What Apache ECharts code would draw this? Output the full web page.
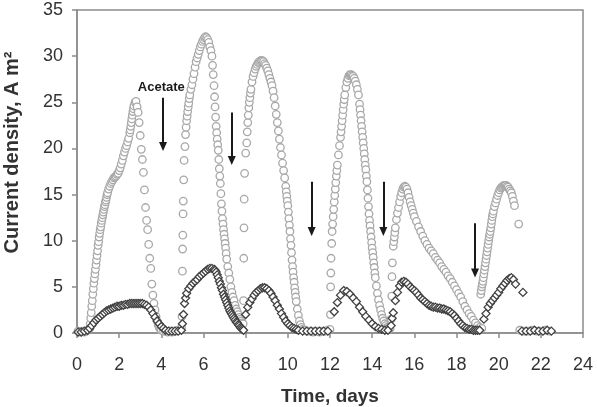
<!DOCTYPE html>
<html>
<head>
<meta charset="utf-8">
<script src="https://cdn.jsdelivr.net/npm/echarts@6/dist/echarts.min.js"></script>
<style>
html, body { margin: 0; padding: 0; background: #fff; }
#chart { width: 597px; height: 407px; }
</style>
</head>
<body>
<div id="chart"></div>
<script>
// light grey circles: [day, current density]
var lightSeries = [
	[0.05, 0.2], [0.15, 0.1], [0.25, 0.2], [0.35, 0.1], [0.45, 0.2], [0.55, 0.4],
	[0.60, 0.5], [0.625, 1.0], [0.65, 1.6], [0.675, 2.2], [0.70, 2.9], [0.725, 3.5], [0.75, 4.2], [0.775, 4.8],
	[0.80, 5.4], [0.825, 5.9], [0.85, 6.4], [0.875, 6.9], [0.90, 7.4], [0.925, 7.9], [0.95, 8.4], [0.975, 8.9],
	[1.00, 9.5], [1.025, 9.9], [1.05, 10.4], [1.075, 10.8], [1.10, 11.2], [1.125, 11.5], [1.15, 11.9], [1.175, 12.2],
	[1.20, 12.5], [1.225, 12.8], [1.25, 13.1], [1.275, 13.4], [1.30, 13.7], [1.325, 13.9], [1.35, 14.2], [1.375, 14.4],
	[1.40, 14.7], [1.425, 15.0], [1.45, 15.2], [1.50, 15.6], [1.55, 15.9], [1.60, 16.2], [1.65, 16.4], [1.70, 16.6], [1.75, 16.8],
	[1.80, 16.9], [1.85, 17.0], [1.90, 17.2], [1.95, 17.3], [2.00, 17.6], [2.05, 17.9], [2.10, 18.3], [2.15, 18.7],
	[2.20, 19.2], [2.25, 19.6], [2.30, 20.0], [2.35, 20.3], [2.40, 20.7], [2.45, 21.1], [2.50, 21.7], [2.525, 22.0],
	[2.55, 22.4], [2.575, 22.8], [2.60, 23.2], [2.625, 23.6], [2.65, 24.0], [2.675, 24.3], [2.70, 24.6], [2.75, 25.0],
	[2.80, 25.1], [2.85, 24.5], [2.90, 23.9], [2.95, 22.8],
	[3.00, 21.4], [3.05, 19.9], [3.10, 18.8], [3.15, 17.4], [3.20, 15.5], [3.25, 13.6], [3.30, 12.2], [3.35, 11.2],
	[3.40, 9.6], [3.45, 8.1], [3.50, 7.0], [3.55, 5.3], [3.60, 4.1], [3.65, 3.2], [3.70, 2.5], [3.75, 1.8],
	[3.80, 1.3], [3.85, 0.9], [3.90, 0.6], [3.95, 0.4], [4.00, 0.3], [4.10, 0.2], [4.20, 0.2], [4.30, 0.1],
	[4.40, 0.2], [4.50, 0.1], [4.60, 0.2], [4.70, 0.2], [4.80, 0.3], [4.90, 0.4], [4.96, 0.6], [4.98, 1.8],
	[5.00, 6.7], [5.01, 9.1], [5.02, 10.6], [5.03, 12.9], [5.04, 14.3], [5.06, 16.6], [5.08, 18.7], [5.12, 20.2],
	[5.15, 21.5], [5.175, 22.3], [5.20, 23.0], [5.225, 23.5], [5.25, 24.0], [5.275, 24.5], [5.30, 24.9], [5.325, 25.4],
	[5.35, 25.8], [5.40, 26.4], [5.45, 26.9], [5.50, 27.5],
	[5.55, 28.1], [5.60, 28.8], [5.65, 29.4], [5.70, 29.8], [5.75, 30.2], [5.80, 30.6], [5.85, 31.0], [5.90, 31.3],
	[5.95, 31.6], [6.00, 31.8], [6.05, 32.0], [6.10, 32.1], [6.15, 32.0], [6.20, 31.8], [6.25, 31.5], [6.30, 31.0],
	[6.35, 30.6], [6.40, 30.0], [6.43, 29.0], [6.46, 28.0], [6.50, 26.8], [6.525, 25.6], [6.55, 24.5], [6.575, 23.4],
	[6.60, 22.4], [6.625, 21.7], [6.65, 21.0], [6.675, 20.4], [6.70, 19.8], [6.725, 18.8], [6.75, 17.8], [6.775, 17.0],
	[6.80, 16.2], [6.825, 15.1], [6.85, 14.0], [6.875, 13.2], [6.90, 12.4], [6.925, 11.8], [6.95, 11.2], [6.975, 10.7],
	[7.00, 10.2], [7.025, 9.7], [7.05, 9.2], [7.075, 8.6],
	[7.10, 8.0], [7.15, 7.2], [7.20, 6.5], [7.25, 5.8], [7.30, 5.0], [7.35, 4.4], [7.40, 3.9], [7.45, 3.5],
	[7.50, 3.0], [7.55, 2.6], [7.60, 2.3], [7.65, 2.0], [7.70, 1.7], [7.75, 1.5], [7.80, 1.3], [7.85, 1.1],
	[7.88, 1.0], [7.90, 3.5], [7.91, 8.1], [7.92, 11.4], [7.93, 14.5], [7.95, 17.3], [8.00, 19.5], [8.05, 20.6],
	[8.075, 21.8], [8.10, 22.8], [8.125, 23.6], [8.15, 24.4], [8.175, 25.0], [8.20, 25.5], [8.225, 26.0], [8.25, 26.4],
	[8.30, 27.2], [8.35, 27.8], [8.40, 28.2], [8.45, 28.6],
	[8.50, 28.9], [8.55, 29.1], [8.60, 29.3], [8.65, 29.4], [8.70, 29.5], [8.75, 29.5], [8.80, 29.5], [8.85, 29.4],
	[8.90, 29.2], [8.95, 29.0], [9.00, 28.7], [9.05, 28.4], [9.10, 28.0], [9.15, 27.6], [9.20, 27.2], [9.25, 26.8],
	[9.30, 26.2], [9.35, 25.5], [9.40, 24.6], [9.45, 23.7], [9.50, 22.8], [9.55, 21.9], [9.60, 21.0], [9.65, 20.1],
	[9.70, 19.3], [9.75, 18.4], [9.80, 17.6], [9.85, 16.8], [9.90, 15.9], [9.925, 15.3], [9.95, 14.8], [9.975, 14.3],
	[10.00, 13.8], [10.025, 13.1], [10.05, 12.4], [10.075, 11.7], [10.10, 11.0], [10.125, 10.2], [10.15, 9.5], [10.175, 8.7],
	[10.20, 7.9], [10.225, 7.2], [10.25, 6.6], [10.275, 6.0], [10.30, 5.5], [10.325, 4.9], [10.35, 4.4], [10.375, 3.9],
	[10.40, 3.4], [10.45, 2.6],
	[10.50, 1.9], [10.55, 1.3], [10.60, 0.9], [10.65, 0.6], [10.70, 0.4], [10.80, 0.3], [10.90, 0.2], [11.00, 0.2],
	[11.10, 0.2], [11.20, 0.1], [11.30, 0.2], [11.40, 0.2], [11.50, 0.1], [11.60, 0.2], [11.70, 0.2], [11.80, 0.2],
	[11.90, 0.3], [12.00, 0.4], [12.02, 2.0], [12.03, 5.0], [12.04, 6.5], [12.05, 8.1], [12.08, 9.7], [12.10, 11.0],
	[12.125, 11.8], [12.15, 12.6], [12.175, 13.4], [12.20, 14.2], [12.225, 14.9], [12.25, 15.6], [12.275, 16.3], [12.30, 17.0],
	[12.325, 17.6], [12.35, 18.2], [12.40, 19.3], [12.45, 20.3], [12.50, 21.2], [12.525, 21.8],
	[12.55, 22.4], [12.575, 23.0], [12.60, 23.6], [12.625, 24.2], [12.65, 24.8], [12.675, 25.3], [12.70, 25.8], [12.75, 26.6],
	[12.80, 27.2], [12.85, 27.6], [12.90, 27.9],
	[12.95, 28.0], [13.00, 28.0], [13.05, 27.9], [13.10, 27.8], [13.15, 27.6], [13.20, 27.3], [13.25, 26.9], [13.30, 26.4],
	[13.35, 25.8], [13.40, 24.8], [13.425, 24.2], [13.45, 23.6], [13.475, 23.0], [13.50, 22.4], [13.525, 21.8], [13.55, 21.2],
	[13.575, 20.6], [13.60, 20.0], [13.625, 19.4], [13.65, 18.8], [13.675, 18.2], [13.70, 17.7], [13.725, 17.0],
	[13.75, 16.4], [13.775, 15.5], [13.80, 14.6], [13.825, 13.7], [13.85, 12.9], [13.875, 12.2], [13.90, 11.6], [13.925, 11.0],
	[13.95, 10.4], [13.975, 9.8], [14.00, 9.2], [14.025, 8.7], [14.05, 8.2], [14.075, 7.6], [14.10, 7.1], [14.125, 6.5],
	[14.15, 6.0], [14.20, 5.1], [14.25, 4.3], [14.30, 3.6], [14.35, 3.0], [14.40, 2.5], [14.45, 2.0], [14.50, 1.6],
	[14.55, 1.3], [14.60, 1.0], [14.65, 0.8], [14.70, 0.6], [14.75, 0.5], [14.80, 0.4], [14.85, 0.5], [14.90, 1.5],
	[14.93, 4.0], [14.94, 6.1], [14.96, 7.6], [15.00, 9.4], [15.025, 9.9], [15.05, 10.4], [15.075, 10.9], [15.10, 11.4],
	[15.15, 12.3], [15.20, 13.0],
	[15.25, 13.6], [15.30, 14.2], [15.35, 14.8], [15.40, 15.2], [15.45, 15.6], [15.50, 15.8], [15.55, 15.9], [15.60, 15.8],
	[15.65, 15.6], [15.70, 15.2], [15.75, 14.7], [15.80, 14.2], [15.85, 13.8], [15.90, 13.4], [15.95, 13.0], [16.00, 12.6],
	[16.10, 12.1], [16.20, 11.5], [16.30, 11.0], [16.40, 10.5], [16.50, 10.0], [16.60, 9.6], [16.70, 9.2], [16.80, 8.9],
	[16.90, 8.6], [17.00, 8.2], [17.10, 7.9], [17.20, 7.6], [17.30, 7.2], [17.40, 6.9], [17.50, 6.6], [17.60, 6.2],
	[17.70, 5.9], [17.80, 5.5], [17.90, 5.1], [18.00, 4.7], [18.10, 4.3], [18.20, 3.9], [18.30, 3.4], [18.40, 2.9],
	[18.50, 2.5], [18.60, 2.1], [18.70, 1.8], [18.80, 1.4], [18.90, 1.1], [19.00, 0.8], [19.10, 0.6], [19.20, 0.5],
	[19.15, 4.2], [19.175, 4.6], [19.20, 5.0], [19.225, 5.3], [19.25, 5.6], [19.275, 6.0], [19.30, 6.4], [19.325, 6.8],
	[19.35, 7.2], [19.375, 7.6], [19.40, 8.0], [19.425, 8.4], [19.45, 8.8], [19.475, 9.2], [19.50, 9.6], [19.525, 10.0],
	[19.55, 10.4], [19.575, 10.7], [19.60, 11.0], [19.625, 11.4], [19.65, 11.8], [19.675, 12.2], [19.70, 12.6], [19.725, 12.9],
	[19.75, 13.2], [19.80, 13.7], [19.85, 14.1], [19.90, 14.5],
	[19.95, 14.9], [20.00, 15.2], [20.05, 15.5], [20.10, 15.7], [20.15, 15.8], [20.20, 15.9], [20.25, 16.0], [20.30, 16.0],
	[20.35, 16.0], [20.40, 15.9], [20.45, 15.8], [20.50, 15.6], [20.55, 15.4], [20.60, 15.2], [20.65, 14.8], [20.70, 14.3],
	[20.75, 13.8], [20.95, 11.8],
	[21.00, 0.3], [21.20, 0.2], [21.40, 0.2], [21.60, 0.3], [21.80, 0.2], [22.00, 0.2], [22.20, 0.3], [22.40, 0.2]
];

// dark diamonds: [day, current density]
var darkSeries = [
	[0.05, 0.1], [0.20, 0.1], [0.35, 0.2], [0.50, 0.3],
	[0.60, 0.5], [0.70, 0.8], [0.80, 1.1], [0.90, 1.4], [1.00, 1.6], [1.10, 1.8], [1.20, 2.0], [1.30, 2.2],
	[1.40, 2.4], [1.50, 2.5], [1.60, 2.6], [1.70, 2.7], [1.80, 2.8], [1.90, 2.9], [2.00, 2.9], [2.10, 3.0],
	[2.20, 3.0], [2.30, 3.1], [2.40, 3.1], [2.50, 3.2], [2.60, 3.2], [2.70, 3.2], [2.80, 3.2], [2.90, 3.2],
	[3.00, 3.2], [3.10, 3.2], [3.20, 3.1], [3.30, 3.0], [3.40, 2.8], [3.50, 2.5], [3.60, 2.1], [3.70, 1.7],
	[3.80, 1.3], [3.90, 1.0], [4.00, 0.7], [4.10, 0.5], [4.20, 0.3], [4.35, 0.2], [4.50, 0.2], [4.65, 0.2],
	[4.80, 0.2], [4.95, 0.3],
	[5.00, 1.0], [5.05, 2.0], [5.10, 3.2], [5.15, 3.8], [5.20, 4.3], [5.30, 4.8], [5.40, 5.1], [5.50, 5.4],
	[5.60, 5.6], [5.70, 5.8], [5.80, 6.1], [5.90, 6.3], [6.00, 6.5], [6.10, 6.7], [6.20, 6.9], [6.30, 7.0],
	[6.40, 7.0], [6.50, 6.9], [6.55, 6.8], [6.60, 6.6], [6.65, 6.3], [6.70, 6.0], [6.75, 5.6], [6.80, 5.3],
	[6.85, 4.9], [6.90, 4.6], [6.95, 4.2], [7.00, 3.9], [7.05, 3.6], [7.10, 3.3], [7.15, 3.0], [7.20, 2.7],
	[7.25, 2.4], [7.30, 2.2], [7.35, 2.0], [7.40, 1.8], [7.45, 1.6], [7.50, 1.4], [7.55, 1.2], [7.60, 1.1],
	[7.65, 0.9], [7.70, 0.8], [7.75, 0.6], [7.80, 0.5], [7.85, 0.4], [7.90, 0.3],
	[8.00, 2.0], [8.10, 2.8], [8.20, 3.3], [8.30, 3.7], [8.40, 4.1], [8.50, 4.4], [8.60, 4.6], [8.70, 4.8],
	[8.80, 4.9], [8.90, 4.9], [9.00, 4.8], [9.10, 4.6], [9.20, 4.3], [9.30, 3.9], [9.40, 3.5], [9.50, 3.0],
	[9.60, 2.6], [9.70, 2.1], [9.80, 1.7], [9.90, 1.3], [10.00, 1.0], [10.10, 0.8], [10.20, 0.6], [10.30, 0.5],
	[10.40, 0.4], [10.50, 0.3], [10.70, 0.2], [10.90, 0.2], [11.10, 0.2], [11.30, 0.2], [11.50, 0.2], [11.70, 0.2],
	[11.90, 0.2],
	[12.20, 2.3], [12.35, 3.3], [12.50, 4.1], [12.65, 4.6], [12.80, 4.5], [12.95, 4.2], [13.10, 3.8], [13.25, 3.4],
	[13.40, 2.8], [13.55, 2.3], [13.70, 1.8], [13.85, 1.4], [14.00, 1.0], [14.15, 0.7], [14.30, 0.5], [14.45, 0.4],
	[14.60, 0.3], [14.75, 0.3],
	[14.90, 0.8], [14.95, 1.6], [15.00, 2.2], [15.10, 3.5], [15.20, 4.4], [15.30, 5.1], [15.40, 5.5], [15.50, 5.6],
	[15.60, 5.5], [15.70, 5.3], [15.80, 5.0], [15.90, 4.8], [16.00, 4.6], [16.10, 4.4], [16.20, 4.1], [16.30, 3.8],
	[16.40, 3.6], [16.50, 3.4], [16.60, 3.2], [16.70, 3.0], [16.80, 2.9], [16.90, 2.8], [17.00, 2.8], [17.10, 2.7],
	[17.20, 2.7], [17.30, 2.6], [17.40, 2.6], [17.50, 2.5], [17.60, 2.4], [17.70, 2.3], [17.80, 2.1], [17.90, 1.9],
	[18.00, 1.6], [18.10, 1.3], [18.20, 1.0], [18.30, 0.8], [18.40, 0.6], [18.50, 0.5], [18.60, 0.4], [18.70, 0.4],
	[18.80, 0.3], [18.90, 0.3], [19.00, 0.3], [19.10, 0.3],
	[19.30, 1.5], [19.40, 2.1], [19.50, 2.8], [19.60, 3.2], [19.70, 3.5], [19.80, 3.8], [19.90, 4.1], [20.00, 4.4],
	[20.10, 4.8], [20.20, 5.1], [20.30, 5.4], [20.40, 5.7], [20.50, 5.9], [20.60, 6.0], [20.70, 5.8], [20.80, 5.3],
	[21.15, 4.4],
	[21.10, 0.2], [21.30, 0.2], [21.50, 0.2], [21.70, 0.3], [21.90, 0.2], [22.10, 0.2], [22.30, 0.3], [22.50, 0.2]
];

// acetate additions: [day, arrow top, arrow tip]
var acetateArrows = [
	[4.08, 25.5, 20.2],
	[7.34, 23.9, 18.7],
	[11.13, 16.4, 11.0],
	[14.53, 16.4, 11.0],
	[18.88, 11.9, 6.5]
];
var acetateLabel = [4.0, 26.6];

var xMin = 0, xMax = 24, xStep = 2;
var yMin = 0, yMax = 35, yStep = 5;

var axisGrey = '#8c8c8c';
var textColor = '#333';
var font = 'Liberation Sans, Arial, sans-serif';

var arrowLines = acetateArrows.map(function(a) {
	return [ { coord : [ a[0], a[1] ] }, { coord : [ a[0], a[2] ] } ];
});

var chart = echarts.init(document.getElementById('chart'), null, { renderer : 'canvas' });
chart.setOption({
	animation : false,
	backgroundColor : '#fff',
	grid : {
		left : 77,
		right : 14,
		top : 10,
		bottom : 74,
		containLabel : false,
		outerBoundsMode : 'none'
	},
	xAxis : {
		type : 'value',
		min : xMin,
		max : xMax,
		interval : xStep,
		name : 'Time, days',
		nameLocation : 'middle',
		nameGap : 54,
		nameTextStyle : { fontFamily : font, fontWeight : 'bold', fontSize : 19, color : textColor },
		axisLine : { onZero : false, lineStyle : { color : axisGrey, width : 1.5 } },
		axisTick : { show : true, inside : false, length : 5, lineStyle : { color : axisGrey, width : 1.5 } },
		axisLabel : { fontFamily : font, fontSize : 18, color : textColor, margin : 23 },
		splitLine : { show : false }
	},
	yAxis : {
		type : 'value',
		min : yMin,
		max : yMax,
		interval : yStep,
		name : 'Current density, A m\u00B2',
		nameLocation : 'middle',
		nameGap : 55,
		nameTextStyle : { fontFamily : font, fontWeight : 'bold', fontSize : 20, color : textColor, padding : [ 0, 0, 0, 38 ] },
		axisLine : { show : true, onZero : false, lineStyle : { color : axisGrey, width : 1.5 } },
		axisTick : { show : true, inside : false, length : 5, lineStyle : { color : axisGrey, width : 1.5 } },
		axisLabel : { fontFamily : font, fontSize : 18, color : textColor, margin : 14 },
		splitLine : { show : false }
	},
	series : [
		{
			name : 'light',
			type : 'scatter',
			symbol : 'circle',
			symbolSize : 7.5,
			data : lightSeries,
			itemStyle : { color : '#fff', borderColor : '#a8a8a8', borderWidth : 1.3, opacity : 1 },
			z : 2
		},
		{
			name : 'dark',
			type : 'scatter',
			symbol : 'diamond',
			symbolSize : 8,
			data : darkSeries,
			itemStyle : { color : '#fff', borderColor : '#404040', borderWidth : 1.3, opacity : 1 },
			z : 3,
			markLine : {
				silent : true,
				symbol : [ 'none', 'triangle' ],
				symbolSize : [ 8, 9 ],
				symbolRotate : 180,
				label : { show : false },
				lineStyle : { color : '#1a1a1a', width : 2, type : 'solid' },
				data : arrowLines,
				z : 5
			},
			markPoint : {
				silent : true,
				symbol : 'circle',
				symbolSize : 0,
				data : [ { coord : acetateLabel, value : 'Acetate' } ],
				label : {
					show : true,
					position : 'inside',
					formatter : 'Acetate',
					fontFamily : font,
					fontWeight : 'bold',
					fontSize : 13,
					color : '#1a1a1a'
				}
			}
		}
	]
});

// box around the plot area, placed through the axis scales
var topLeft = chart.convertToPixel({ gridIndex : 0 }, [ xMin, yMax ]);
var bottomRight = chart.convertToPixel({ gridIndex : 0 }, [ xMax, yMin ]);
chart.setOption({
	graphic : [ {
		type : 'rect',
		silent : true,
		z : 1,
		shape : {
			x : topLeft[0],
			y : topLeft[1],
			width : bottomRight[0] - topLeft[0],
			height : bottomRight[1] - topLeft[1]
		},
		style : { fill : null, stroke : axisGrey, lineWidth : 1.5 }
	} ]
});
</script>
</body>
</html>
